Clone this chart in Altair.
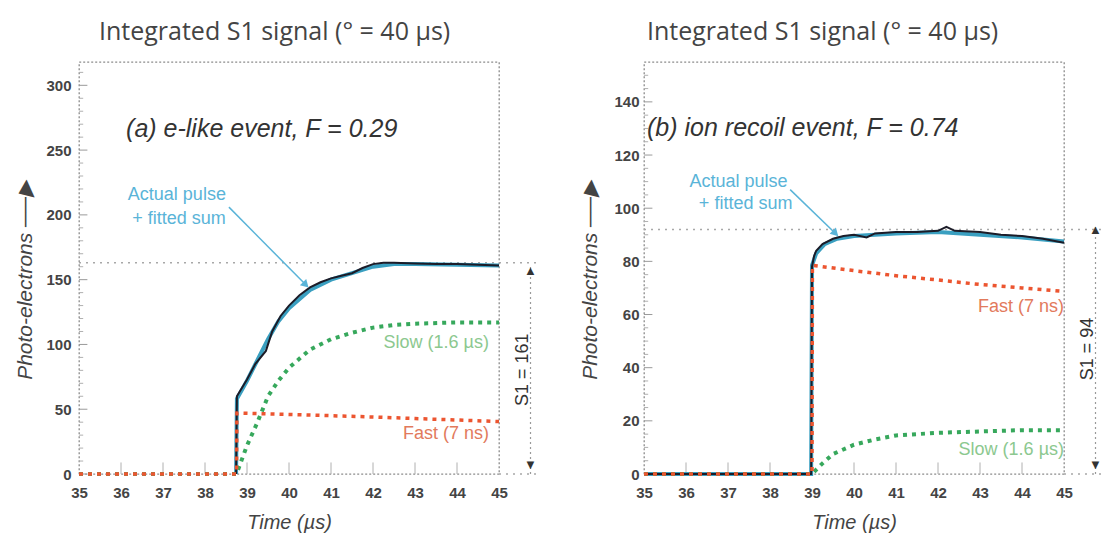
import altair as alt
import pandas as pd

FONT = "Liberation Sans"
TITLE_FONT = "Open Sans"
TITLE = "Integrated S1 signal (° = 40 µs)"

# time ticks shared by both panels (µs)
x_ticks = [35, 36, 37, 38, 39, 40, 41, 42, 43, 44, 45]
x_inner_ticks = [36, 37, 38, 39, 40, 41, 42, 43, 44]

# ---- (a) e-like event ----
a_label = "(a) e-like event, F = 0.29"
a_ymax = 318
a_y_ticks = [0, 50, 100, 150, 200, 250, 300]
a_y_minor = [10, 20, 30, 40, 60, 70, 80, 90, 110, 120, 130, 140, 160, 170, 180, 190,
             210, 220, 230, 240, 260, 270, 280, 290, 310]
a_pulse_t = [38.74, 38.76, 39.0, 39.2, 39.45, 39.6, 39.8, 40.0, 40.25, 40.5, 40.75, 41.0,
             41.25, 41.5, 41.75, 42.0, 42.25, 42.5, 43.0, 43.5, 44.0, 44.5, 45.0]
a_pulse_v = [0, 60, 73, 85, 95, 110, 122, 130, 138, 144, 148, 151,
             153, 155, 159, 162, 163, 163, 162.5, 162, 162, 161.5, 161]
a_fit_t = [38.74, 38.76, 39.0, 39.25, 39.5, 39.75, 40.0, 40.5, 41.0, 41.5, 42.0, 42.5, 43.0, 44.0, 45.0]
a_fit_v = [0, 58, 72, 88, 104, 118, 128, 142, 150, 155, 160, 162, 162, 161.5, 161]
a_fast_t = [35.0, 38.75, 38.76, 40.0, 41.0, 42.0, 43.0, 44.0, 45.0]
a_fast_v = [0, 0, 47, 46, 45, 44, 42.8, 41.7, 40.5]
a_slow_t = [35.0, 38.75, 39.0, 39.25, 39.5, 39.75, 40.0, 40.5, 41.0, 41.5, 42.0, 42.5, 43.0, 44.0, 45.0]
a_slow_v = [0, 0, 22, 40, 60, 72, 82, 96, 104, 109, 113, 115, 116, 117, 117]
a_plateau = 163
a_s1 = 161
a_note_xy = (39.35, 266)
a_pulse_note = [(37.33, 215), (37.38, 197)]
a_pointer_t = [38.57, 40.4]
a_pointer_v = [206, 146]
a_slow_note = (44.76, 101)
a_fast_note = (44.76, 31)

# ---- (b) ion recoil event ----
b_label = "(b) ion recoil event, F = 0.74"
b_ymax = 155
b_y_ticks = [0, 20, 40, 60, 80, 100, 120, 140]
b_y_minor = [5, 10, 15, 25, 30, 35, 45, 50, 55, 65, 70, 75, 85, 90, 95, 105, 110, 115,
             125, 130, 135, 145, 150]
b_pulse_t = [35.0, 38.98, 39.0, 39.05, 39.1, 39.25, 39.5, 39.75, 40.0, 40.3, 40.5, 41.0,
             41.5, 42.0, 42.2, 42.4, 43.0, 43.5, 44.0, 44.5, 45.0]
b_pulse_v = [0, 0, 78, 82, 84, 86.5, 88.5, 89.5, 90, 89, 90.5, 91,
             91, 91.5, 93, 91.5, 91, 90, 89.5, 88.5, 87]
b_fit_t = [35.0, 38.98, 39.0, 39.1, 39.3, 39.6, 40.0, 41.0, 42.0, 43.0, 44.0, 45.0]
b_fit_v = [0, 0, 78.5, 83, 86.5, 88.5, 89.5, 90.5, 91, 90, 89, 87.5]
b_fast_t = [35.0, 39.0, 39.01, 40.0, 41.0, 42.0, 43.0, 44.0, 45.0]
b_fast_v = [0, 0, 78.5, 76.5, 74.6, 73, 71.3, 70, 68.7]
b_slow_t = [35.0, 39.0, 39.25, 39.5, 40.0, 40.5, 41.0, 42.0, 43.0, 44.0, 45.0]
b_slow_v = [0, 0, 4, 7.5, 11, 13, 14.5, 15.5, 16, 16.5, 16.5]
b_plateau = 92
b_s1 = 94
b_note_xy = (38.78, 130)
b_pulse_note = [(37.25, 110), (37.42, 101.5)]
b_pointer_t = [38.48, 39.56]
b_pointer_v = [107, 90.5]
b_slow_note = (45.0, 9)
b_fast_note = (45.0, 63)

# dimension-line placement beyond the time axis (µs)
DIM_END = 45.9
DIM_ARROW = 45.75
DIM_LABEL = 45.56

PULSE_C = "#1c1c28"
FIT_C = "#3a9fc0"
NOTE_C = "#5ab4d8"
FAST_C = "#ec5530"
FAST_TXT = "#e27a5c"
SLOW_C = "#37a85c"
SLOW_TXT = "#8cc88f"
GUIDE_C = "#a8a8a8"


def panel(label, ymax, y_ticks, y_minor, pulse, fit, fast, slow, plateau, s1,
          note_xy, pulse_note, pointer, slow_note, fast_note, title_dx, label_pad):
    x_axis = alt.Axis(values=x_ticks, title="Time (µs)", grid=False, domain=False, ticks=False,
                      labelFlush=False, labelFont=FONT, labelFontSize=15, labelFontWeight="bold",
                      labelColor="#444", labelPadding=11, titleFont=FONT, titleFontSize=20,
                      titleFontStyle="italic", titleFontWeight="normal", titleColor="#444",
                      titlePadding=12)
    y_axis = alt.Axis(values=y_ticks, title="Photo-electrons ──▶", grid=False, domain=False,
                      ticks=False, labelFlush=False, labelFont=FONT, labelFontSize=15,
                      labelFontWeight="bold", labelColor="#444", labelPadding=label_pad,
                      minExtent=38, maxExtent=38, titleFont=FONT, titleFontSize=21,
                      titleFontStyle="italic", titleFontWeight="normal", titleColor="#444",
                      titlePadding=6, titleY=218)
    xs = alt.Scale(domain=[35, 45], nice=False, zero=False)
    ys = alt.Scale(domain=[0, ymax], nice=False)
    X = lambda f, **k: alt.X(f, scale=xs, axis=x_axis, **k)
    Y = lambda f, **k: alt.Y(f, scale=ys, axis=y_axis, **k)

    def series(t, v):
        return alt.Chart(pd.DataFrame({"t": t, "v": v}))

    def note(xy, txt, **kw):
        return alt.Chart(pd.DataFrame({"t": [xy[0]], "v": [xy[1]], "s": [txt]})).mark_text(
            font=FONT, **kw).encode(x=X("t:Q"), y=Y("v:Q"), text="s:N")

    # inner tick marks along the left and bottom edges
    ymajor = alt.Chart(pd.DataFrame({"v": y_ticks})).mark_rule(color="#9a9a9a", strokeWidth=1).encode(
        y=Y("v:Q"), x=alt.X(datum=35, scale=xs, axis=x_axis), x2=alt.X2(datum=35.2))
    yminor = alt.Chart(pd.DataFrame({"v": y_minor})).mark_rule(color="#b0b0b0", strokeWidth=1).encode(
        y=Y("v:Q"), x=alt.X(datum=35, scale=xs, axis=x_axis), x2=alt.X2(datum=35.1))
    xtick_len = ymax * 0.028
    xinner = alt.Chart(pd.DataFrame({"t": x_inner_ticks})).mark_rule(color="#b0b0b0", strokeWidth=1).encode(
        x=X("t:Q"), y=alt.Y(datum=0, scale=ys, axis=y_axis), y2=alt.Y2(datum=xtick_len))

    # plateau guide and baseline extension
    guide = pd.DataFrame({"t": [35, DIM_END, 45, DIM_END], "v": [plateau, plateau, 0, 0],
                          "g": ["p", "p", "z", "z"]})
    guides = alt.Chart(guide).mark_line(color=GUIDE_C, strokeWidth=1.5, strokeDash=[2, 5]).encode(
        x=X("t:Q"), y=Y("v:Q"), detail="g:N")

    # S1 dimension arrow
    dim = alt.Chart(pd.DataFrame({"t": [DIM_ARROW], "v": [0], "v2": [s1]})).mark_rule(
        color="#999", strokeWidth=1.2, strokeDash=[2, 3]).encode(x=X("t:Q"), y=Y("v:Q"), y2="v2:Q")
    up = alt.Chart(pd.DataFrame({"t": [DIM_ARROW], "v": [s1]})).mark_text(
        text="▲", fontSize=13, baseline="top", color="#333").encode(x=X("t:Q"), y=Y("v:Q"))
    down = alt.Chart(pd.DataFrame({"t": [DIM_ARROW], "v": [0]})).mark_text(
        text="▼", fontSize=13, baseline="bottom", color="#333", dy=-2).encode(x=X("t:Q"), y=Y("v:Q"))
    s1_text = note((DIM_LABEL, s1 / 2), f"S1 = {s1}", fontSize=18, angle=270, color="#333")

    fit_line = series(*fit).mark_line(color=FIT_C, strokeWidth=4).encode(x=X("t:Q"), y=Y("v:Q"))
    pulse_line = series(*pulse).mark_line(color=PULSE_C, strokeWidth=2).encode(x=X("t:Q"), y=Y("v:Q"))
    slow_line = series(*slow).mark_line(color=SLOW_C, strokeWidth=4, strokeDash=[4, 5]).encode(
        x=X("t:Q"), y=Y("v:Q"))
    fast_line = series(*fast).mark_line(color=FAST_C, strokeWidth=3.5, strokeDash=[4, 5]).encode(
        x=X("t:Q"), y=Y("v:Q"))

    pointer_line = series(*pointer).mark_line(color=NOTE_C, strokeWidth=1.5).encode(
        x=X("t:Q"), y=Y("v:Q"))
    pointer_head = series([pointer[0][1]], [pointer[1][1]]).mark_point(
        shape="triangle-up", angle=135, filled=True, size=80, color=NOTE_C, opacity=1).encode(
        x=X("t:Q"), y=Y("v:Q"))

    layers = [
        ymajor, yminor, xinner, guides, dim, up, down, s1_text,
        fit_line, pulse_line, slow_line, fast_line, pointer_line, pointer_head,
        note(note_xy, label, fontSize=25, fontStyle="italic", color="#333"),
        note(pulse_note[0], "Actual pulse", fontSize=18, color=NOTE_C),
        note(pulse_note[1], "+ fitted sum", fontSize=18, color=NOTE_C),
        note(slow_note, "Slow (1.6 µs)", fontSize=18, color=SLOW_TXT, align="right"),
        note(fast_note, "Fast (7 ns)", fontSize=18, color=FAST_TXT, align="right"),
    ]
    return alt.layer(*layers).properties(
        width=420, height=412,
        title=alt.TitleParams(TITLE, font=TITLE_FONT, fontSize=25, fontWeight="normal",
                              color="#444", anchor="start", frame="group", dx=title_dx, offset=17),
    )


left = panel(a_label, a_ymax, a_y_ticks, a_y_minor, (a_pulse_t, a_pulse_v), (a_fit_t, a_fit_v),
             (a_fast_t, a_fast_v), (a_slow_t, a_slow_v), a_plateau, a_s1, a_note_xy, a_pulse_note,
             (a_pointer_t, a_pointer_v), a_slow_note, a_fast_note, 20, 8)
right = panel(b_label, b_ymax, b_y_ticks, b_y_minor, (b_pulse_t, b_pulse_v), (b_fit_t, b_fit_v),
              (b_fast_t, b_fast_v), (b_slow_t, b_slow_v), b_plateau, b_s1, b_note_xy, b_pulse_note,
              (b_pointer_t, b_pointer_v), b_slow_note, b_fast_note, 3, 5)

chart = alt.hconcat(left, right, spacing=37, padding={"left": 13, "top": 19, "right": 0, "bottom": 0},
                    background="white").configure_view(
    stroke="#8c8c8c", strokeWidth=1.3, strokeDash=[2, 2])

chart.save("out.html", embed_options={"renderer": "svg", "actions": False})
